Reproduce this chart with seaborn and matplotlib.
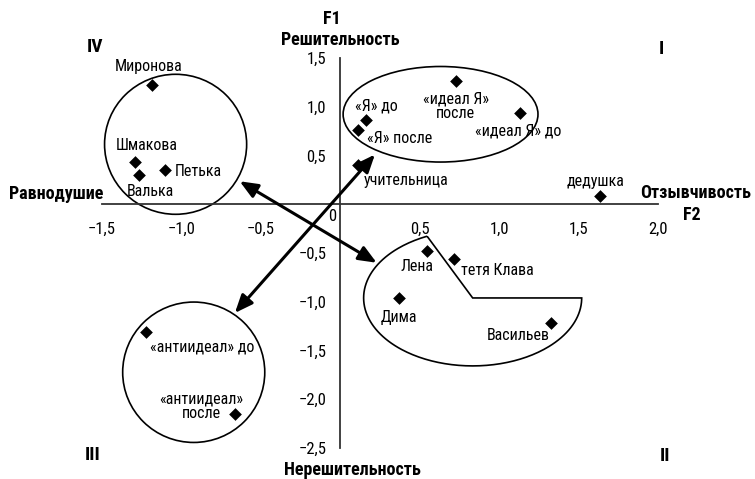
import numpy as np
import pandas as pd
import matplotlib
matplotlib.use('Agg')
import matplotlib.pyplot as plt
from matplotlib.patches import Ellipse, PathPatch
from matplotlib.path import Path
from matplotlib.ticker import FuncFormatter
import seaborn as sns

# data
names = ['Миронова', 'Шмакова', 'Валька', 'Петька',
         '«Я» до', '«Я» после', 'учительница', '«идеал Я»\nпосле', '«идеал Я» до',
         'дедушка', 'Лена', 'тетя Клава', 'Дима', 'Васильев',
         '«антиидеал» до', '«антиидеал»\nпосле']
f2 = [-1.185, -1.293, -1.266, -1.101,
      0.162, 0.110, 0.110, 0.728, 1.130,
      1.633, 0.544, 0.718, 0.370, 1.329,
      -1.222, -0.661]
f1 = [1.220, 0.434, 0.297, 0.356,
      0.869, 0.759, 0.400, 1.262, 0.936,
      0.089, -0.482, -0.557, -0.961, -1.217,
      -1.313, -2.151]

x_ticks = [-1.5, -1.0, -0.5, 0.5, 1.0, 1.5, 2.0]
y_ticks = [-2.5, -2.0, -1.5, -1.0, -0.5, 0.5, 1.0, 1.5]

# label offsets in pixels (dx, dy up) and alignment
label_pos = {
    'Миронова': (-3, 19, 'center'),
    'Шмакова': (12, 16, 'center'),
    'Валька': (11, -16, 'center'),
    'Петька': (10, -2, 'left'),
    '«Я» до': (11, 14, 'center'),
    '«Я» после': (9, -8, 'left'),
    'учительница': (6, -15, 'left'),
    '«идеал Я»\nпосле': (0, -25, 'center'),
    '«идеал Я» до': (-2, -18, 'center'),
    'дедушка': (-4, 14, 'center'),
    'Лена': (-10, -15, 'center'),
    'тетя Клава': (7, -12, 'left'),
    'Дима': (0, -20, 'center'),
    'Васильев': (-33, -13, 'center'),
    '«антиидеал» до': (56, -15, 'center'),
    '«антиидеал»\nпосле': (-34, 8, 'center'),
}

sns.set_theme(style='white')
plt.rcParams['font.family'] = ['Roboto Condensed', 'Roboto', 'DejaVu Sans']
plt.rcParams['text.color'] = 'black'
plt.rcParams['xtick.color'] = 'black'
plt.rcParams['ytick.color'] = 'black'

df = pd.DataFrame({'name': names, 'F2': f2, 'F1': f1})

fig = plt.figure(figsize=(7.55, 4.79), dpi=100)
ax = fig.add_axes([0.1347, 0.0647, 0.7368, 0.8142])

sns.scatterplot(data=df, x='F2', y='F1', marker='D', s=42, color='black',
                edgecolor='black', linewidth=0, ax=ax, zorder=5)

ax.set_xlim(-1.5, 2.0)
ax.set_ylim(-2.5, 1.5)

for sp in ['top', 'right']:
    ax.spines[sp].set_visible(False)
for sp in ['left', 'bottom']:
    ax.spines[sp].set_position(('data', 0))
    ax.spines[sp].set_color('#333333')
    ax.spines[sp].set_linewidth(1.3)

fmt = FuncFormatter(lambda v, p: f'{v:.1f}'.replace('.', ',').replace('-', '\u2212'))
ax.set_xticks(x_ticks)
ax.set_yticks(y_ticks)
ax.xaxis.set_major_formatter(fmt)
ax.yaxis.set_major_formatter(fmt)
ax.tick_params(axis='both', direction='out', length=5, width=1.2, color='#333333',
               labelsize=12, pad=5)
ax.tick_params(axis='x', pad=8)
ax.set_xlabel('')
ax.set_ylabel('')
ax.text(-0.05, -0.13, '0', fontsize=12, ha='center', va='center')

px = 0.72  # points per pixel
for _, row in df.iterrows():
    dx, dy, ha = label_pos[row['name']]
    ax.annotate(row['name'], (row['F2'], row['F1']), xytext=(dx * px, dy * px),
                textcoords='offset points', ha=ha, va='center', fontsize=11.5,
                linespacing=0.95)

# groups
ax.add_patch(Ellipse((-1.035, 0.615), 0.894, 1.436, fill=False, lw=1.2, ec='black'))
ax.add_patch(Ellipse((0.632, 0.923), 1.226, 0.98, fill=False, lw=1.2, ec='black'))
ax.add_patch(Ellipse((-0.921, -1.723), 0.894, 1.44, fill=False, lw=1.2, ec='black'))

cx, cy, a, b = 0.834, -0.961, 0.686, 0.697
t = np.radians(np.linspace(114.7, 360, 200))
verts = list(zip(cx + a * np.cos(t), cy + b * np.sin(t)))
verts += [(cx, cy), verts[0]]
ax.add_patch(PathPatch(Path(verts), fill=False, lw=1.2, ec='black'))

arrow = dict(arrowstyle='<|-|>,head_length=0.6,head_width=0.25', lw=2.2,
             color='black', mutation_scale=18, shrinkA=0, shrinkB=0)
ax.annotate('', xy=(-0.632, 0.236), xytext=(0.23, -0.60), arrowprops=arrow)
ax.annotate('', xy=(0.219, 0.51), xytext=(-0.662, -1.115), arrowprops=arrow)

# axis captions and quadrants (figure pixels from top-left)
def ftext(x, y, s, **kw):
    fig.text(x / 755, 1 - y / 479, s, ha='center', va='center',
             fontweight='bold', **kw)

ftext(332, 19, 'F1', fontsize=13)
ftext(340, 40, 'Решительность', fontsize=13)
ftext(352, 470, 'Нерешительность', fontsize=13)
ftext(56, 194, 'Равнодушие', fontsize=13)
ftext(696, 193, 'Отзывчивость', fontsize=13)
ftext(692, 215, 'F2', fontsize=13)
ftext(95, 47, 'IV', fontsize=14)
ftext(661, 49, 'I', fontsize=14)
ftext(93, 455, 'III', fontsize=14)
ftext(665, 456, 'II', fontsize=14)

fig.savefig('out.png', dpi=100)
